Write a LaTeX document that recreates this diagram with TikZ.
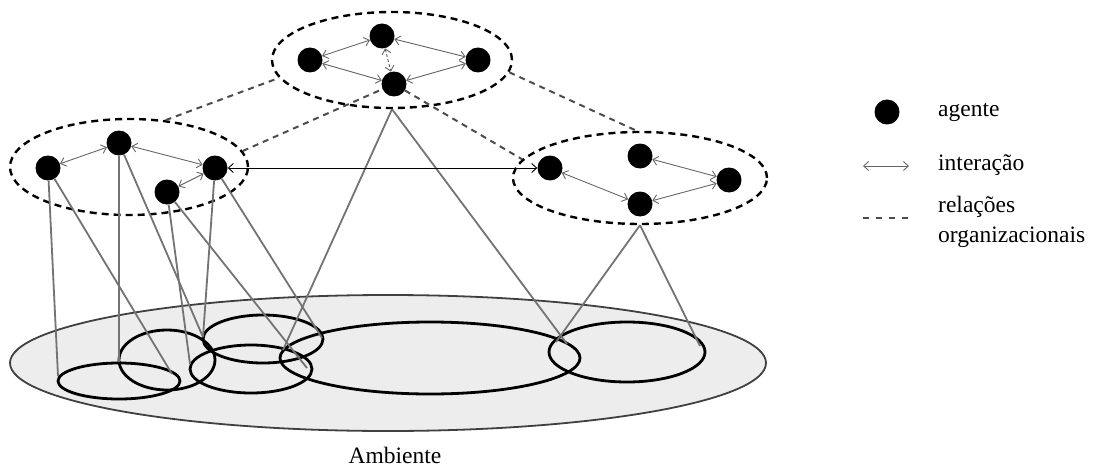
\documentclass[tikz,border=0pt]{standalone}
\usepackage{fontspec}
\setmainfont{Liberation Serif}
\usetikzlibrary{shapes.geometric,arrows.meta}
\begin{document}
\begin{tikzpicture}[x=1pt,y=-1pt,
  agent/.style={circle,fill=black,inner sep=0pt,minimum size=25pt},
  group/.style={ellipse,draw=black,line width=2.4pt,dash pattern=on 7pt off 5pt,inner sep=0pt},
  region/.style={draw=black,line width=2.8pt},
  link/.style={draw=black!55,line width=1.8pt},
  rel/.style={draw=black!70,line width=2pt,dash pattern=on 6pt off 5pt},
  inter/.style={draw=black!60,line width=0.9pt,{Straight Barb[length=5pt,width=9pt]}-{Straight Barb[length=5pt,width=9pt]}},
  lbl/.style={font=\fontsize{23.5}{30}\selectfont,inner sep=0pt}
]
\useasboundingbox (0,0) rectangle (1094,468);

% environment and its regions
\draw[fill=black!7,draw=black!75,line width=1.8pt] (388,363) ellipse [x radius=378,y radius=68];
\draw[region] (119,381) ellipse [x radius=61,y radius=18];
\draw[region] (167,360) ellipse [x radius=48,y radius=30];
\draw[region] (263,339) ellipse [x radius=60,y radius=24];
\draw[region] (251,369) ellipse [x radius=61,y radius=24];
\draw[region] (430,358) ellipse [x radius=150,y radius=36];
\draw[region] (627,352) ellipse [x radius=78,y radius=30];
\node[lbl] (amb) at (395,455) {Ambiente};

% points where agents touch the environment
\coordinate (c1) at (58,376);
\coordinate (c2) at (172,374);
\coordinate (c3) at (119,362);
\coordinate (c4) at (203,337);
\coordinate (c5) at (190,364);
\coordinate (c6) at (307,368);
\coordinate (c7) at (322,338);
\coordinate (c8) at (283,350);
\coordinate (c9) at (567,344);
\coordinate (c10) at (556,342);
\coordinate (c11) at (700,346);

% organisations
\node[group,minimum width=240pt,minimum height=96pt] (topgrp) at (392,60) {};
\node[group,minimum width=238pt,minimum height=96pt] (leftgrp) at (129,167) {};
\node[group,minimum width=254pt,minimum height=92pt] (rightgrp) at (640,178) {};

% agents
\node[agent] (A1) at (310,60) {};
\node[agent] (A2) at (382,36) {};
\node[agent] (A3) at (478,60) {};
\node[agent] (A4) at (394,84) {};
\node[agent] (L1) at (48,168) {};
\node[agent] (L2) at (119,143) {};
\node[agent] (L3) at (215,168) {};
\node[agent] (L4) at (167,192) {};
\node[agent] (R1) at (550,168) {};
\node[agent] (R2) at (640,156) {};
\node[agent] (R3) at (729,180) {};
\node[agent] (R4) at (640,204) {};

% links to the environment
\draw[link] (L1) -- (c1);
\draw[link] (L1) -- (c2);
\draw[link] (L2) -- (c3);
\draw[link] (L2) -- (c4);
\draw[link] (L3) -- (c4);
\draw[link] (L3) -- (c7);
\draw[link] (L4) -- (c5);
\draw[link] (L4) -- (c6);
\draw[link] (topgrp.south) -- (c8);
\draw[link] (topgrp.south) -- (c9);
\draw[link] (rightgrp.south) -- (c10);
\draw[link] (rightgrp.south) -- (c11);

% organisational relations
\draw[rel] (leftgrp.52) -- (topgrp.189);
\draw[rel] (leftgrp.8) -- (A4);
\draw[rel] (A4) -- (rightgrp.171);
\draw[rel] (topgrp.-6) -- (rightgrp.94);

% interactions
\draw[inter] (A1) -- (A2);
\draw[inter] (A2) -- (A3);
\draw[inter] (A1) -- (A4);
\draw[inter] (A4) -- (A3);
\draw[inter,dash pattern=on 3pt off 2pt] (A2) -- (A4);
\draw[inter] (L1) -- (L2);
\draw[inter] (L2) -- (L3);
\draw[inter] (L4) -- (L3);
\draw[inter] (R1) -- (R4);
\draw[inter] (R2) -- (R3);
\draw[inter] (R4) -- (R3);
\draw[inter,draw=black] (L3) -- (R1);

% legend
\node[agent] (key1) at (887,112) {};
\node[lbl,anchor=west] (t1) at (938,112) {agente};
\coordinate (ka) at (863,166);
\coordinate (kb) at (909,166);
\draw[inter] (ka) -- (kb);
\node[lbl,anchor=west] (t2) at (938,165) {interação};
\coordinate (kc) at (863,218);
\coordinate (kd) at (911,218);
\draw[rel,dash pattern=on 6pt off 7pt] (kc) -- (kd);
\node[lbl,anchor=west,align=left] (t3) at (938,222) {relações\\organizacionais};
\end{tikzpicture}
\end{document}
